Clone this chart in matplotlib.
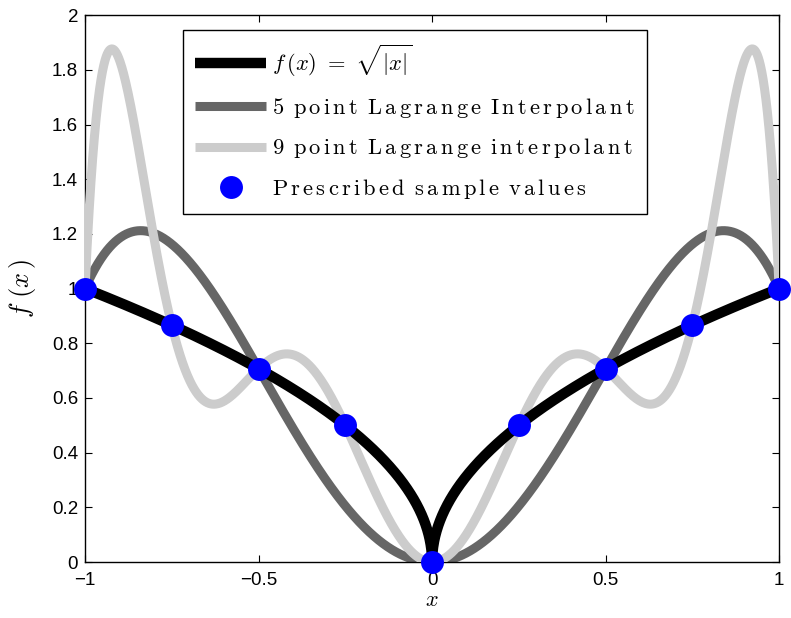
import numpy as np
import matplotlib
matplotlib.use("Agg")
from matplotlib import pyplot as plt

# prescribed samples of f(x) = sqrt(|x|)
x_nodes = [-1.0, -0.75, -0.5, -0.25, 0.0, 0.25, 0.5, 0.75, 1.0]
f_nodes = [1.0, 0.866, 0.707, 0.5, 0.0, 0.5, 0.707, 0.866, 1.0]
x5_nodes = [-1.0, -0.5, 0.0, 0.5, 1.0]
f5_nodes = [1.0, 0.707, 0.0, 0.707, 1.0]

x_ticks = [-1, -0.5, 0, 0.5, 1]
x_tick_labels = ['\u22121', '\u22120.5', '0', '0.5', '1']
y_ticks = [0, 0.2, 0.4, 0.6, 0.8, 1, 1.2, 1.4, 1.6, 1.8, 2]
y_tick_labels = ['0', '0.2', '0.4', '0.6', '0.8', '1', '1.2', '1.4', '1.6', '1.8', '2']

legend_labels = ['5 point Lagrange Interpolant',
                 '9 point Lagrange interpolant',
                 'Prescribed sample values']

plt.rcParams['font.family'] = ['Liberation Sans', 'DejaVu Sans']
plt.rcParams['mathtext.fontset'] = 'cm'
plt.rcParams['axes.unicode_minus'] = True


def lagrange(xn, yn, xs):
    # evaluate the Lagrange interpolating polynomial through (xn, yn)
    xn = np.asarray(xn)
    yn = np.asarray(yn)
    out = np.zeros_like(xs)
    for j in range(len(xn)):
        basis = np.ones_like(xs)
        for m in range(len(xn)):
            if m != j:
                basis *= (xs - xn[m]) / (xn[j] - xn[m])
        out += yn[j] * basis
    return out


def spaced(text):
    # roman mathtext with a little tracking between letters
    words = [r'\,'.join(w) for w in text.split(' ')]
    return r'$\mathrm{' + r'\ \,'.join(words) + '}$'


xs = np.linspace(-1, 1, 2001)
f_exact = np.sqrt(np.abs(xs))
p5 = lagrange(x5_nodes, f5_nodes, xs)
p9 = lagrange(x_nodes, f_nodes, xs)

fig = plt.figure(figsize=(7.91, 6.18), dpi=100)
ax = fig.add_axes([0.1075, 0.0905, 0.8775, 0.885])

h5, = ax.plot(xs, p5, color='#666666', lw=6.5, solid_capstyle='butt', zorder=2)
h9, = ax.plot(xs, p9, color='#cccccc', lw=6.5, solid_capstyle='butt', zorder=3)
hf, = ax.plot(xs, f_exact, color='black', lw=7.5, solid_capstyle='butt', zorder=4)
hs, = ax.plot(x_nodes, f_nodes, 'o', color='#0000ff', markersize=16.5,
              markeredgewidth=0, linestyle='none', clip_on=False, zorder=10)

ax.set_xlim(-1, 1)
ax.set_ylim(0, 2)
ax.set_xticks(x_ticks)
ax.set_xticklabels(x_tick_labels)
ax.set_yticks(y_ticks)
ax.set_yticklabels(y_tick_labels)
ax.tick_params(direction='in', length=5, width=0.8, labelsize=13.5,
               top=True, right=True)
ax.tick_params(axis='x', pad=7)
ax.tick_params(axis='y', pad=5)
for s in ax.spines.values():
    s.set_linewidth(1.0)

ax.set_xlabel(r'$x$', fontsize=16, labelpad=1)
ax.set_ylabel(r'$f\,\,(x\,)$', fontsize=19, labelpad=10)

leg = ax.legend([hf, h5, h9, hs],
                [r'$f\,(x)\,\,=\,\,\sqrt{|x|}$'] + [spaced(t) for t in legend_labels],
                loc='upper left', bbox_to_anchor=(0.141, 0.972),
                fontsize=16.2, frameon=True, fancybox=False, edgecolor='black',
                framealpha=1, handlelength=3.15, handletextpad=0.28,
                labelspacing=0.74, borderpad=0.55, borderaxespad=0)
leg.get_frame().set_linewidth(1.0)
leg.set_zorder(20)

fig.savefig('out.png', dpi=100)
